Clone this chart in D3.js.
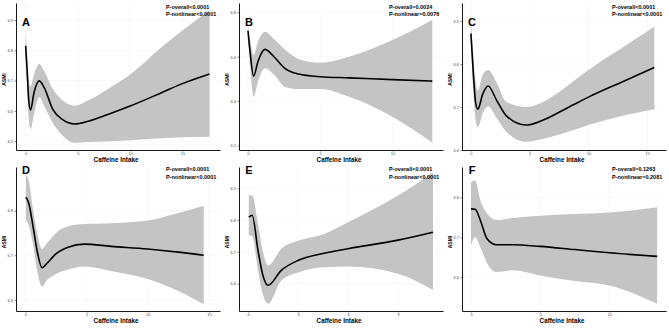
<!DOCTYPE html>
<html>
<head>
<meta charset="utf-8">
<script src="https://cdn.jsdelivr.net/npm/d3@7"></script>
<style>
  body { margin: 0; background: #fff; }
  svg { display: block; font-family: "Liberation Sans", Arial, sans-serif; }
</style>
</head>
<body>
<svg id="chart" width="669" height="328"></svg>
<script>
// panel labels and test results
const panelLetters = ["A", "B", "C", "D", "E", "F"];
const pOverall = ["P-overall<0.0001", "P-overall=0.0024", "P-overall<0.0001",
                  "P-overall<0.0001", "P-overall<0.0001", "P-overall=0.1263"];
const pNonlinear = ["P-nonlinear<0.0001", "P-nonlinear=0.0076", "P-nonlinear<0.0001",
                    "P-nonlinear<0.0001", "P-nonlinear<0.0001", "P-nonlinear=0.2081"];

// axis ticks and limits
const xTicks = [[0, 5, 10, 15], [0, 5, 10], [0, 5, 10, 15], [0, 5, 10, 15], [0, 3, 6, 9], [0, 5, 10]];
const yTicks = [[6.5, 6.6, 6.7, 6.8, 6.9], [6.2, 6.4, 6.6, 6.8], [6.6, 6.7, 6.8, 6.9],
                [6.6, 6.7, 6.8], [6.6, 6.7, 6.8, 6.9], [6.6, 6.7, 6.8]];
const xLimits = [[-0.92, 18.6], [-0.62, 13.5], [-0.76, 16.6], [-0.76, 15.9], [-0.54, 11.7], [-0.65, 14.1]];
const yLimits = [[6.471, 6.956], [6.180, 6.842], [6.600, 6.942], [6.575, 6.898], [6.514, 6.967], [6.515, 6.876]];

// spline fits: [caffeine, ASMI, lower CI, upper CI]
const curveA = [
  [0, 6.815, 6.77, 6.86], [0.15, 6.73, 6.67, 6.79], [0.3, 6.635, 6.575, 6.70],
  [0.47, 6.603, 6.54, 6.68], [0.8, 6.66, 6.59, 6.72], [1.3, 6.699, 6.646, 6.755],
  [1.8, 6.675, 6.615, 6.73], [2.6, 6.605, 6.56, 6.672], [3.5, 6.572, 6.52, 6.636],
  [4.7, 6.557, 6.495, 6.617], [6, 6.566, 6.497, 6.635], [8, 6.59, 6.50, 6.675],
  [10, 6.616, 6.503, 6.72], [13, 6.66, 6.51, 6.81], [15, 6.69, 6.513, 6.865],
  [17.6, 6.722, 6.515, 6.933]
];
const curveB = [
  [0, 6.717, 6.69, 6.74], [0.15, 6.62, 6.56, 6.68], [0.39, 6.513, 6.42, 6.608],
  [0.7, 6.58, 6.49, 6.67], [1.17, 6.633, 6.548, 6.713], [1.8, 6.6, 6.52, 6.68],
  [2.6, 6.545, 6.463, 6.63], [3.5, 6.522, 6.455, 6.59], [5, 6.51, 6.455, 6.573],
  [7, 6.505, 6.42, 6.6], [10, 6.497, 6.33, 6.675], [12.76, 6.49, 6.213, 6.765]
];
const curveC = [
  [0, 6.871, 6.85, 6.90], [0.2, 6.78, 6.74, 6.82], [0.4, 6.71, 6.67, 6.76],
  [0.59, 6.695, 6.653, 6.738], [1, 6.73, 6.685, 6.775], [1.46, 6.749, 6.702, 6.786],
  [2.2, 6.715, 6.674, 6.756], [3, 6.68, 6.643, 6.712], [4.7, 6.658, 6.619, 6.70],
  [6, 6.668, 6.625, 6.71], [8, 6.695, 6.64, 6.745], [10, 6.723, 6.658, 6.786],
  [13, 6.76, 6.68, 6.84], [15.6, 6.792, 6.695, 6.887]
];
const curveD = [
  [0.05, 6.83, 6.78, 6.88], [0.3, 6.815, 6.765, 6.865], [0.6, 6.77, 6.729, 6.808],
  [1, 6.705, 6.66, 6.745], [1.36, 6.672, 6.63, 6.714], [1.8, 6.683, 6.645, 6.728],
  [2.5, 6.703, 6.658, 6.75], [3.5, 6.718, 6.668, 6.765], [4.8, 6.725, 6.675, 6.77],
  [7, 6.72, 6.665, 6.772], [10, 6.714, 6.647, 6.778], [12.5, 6.707, 6.62, 6.795],
  [14.57, 6.70, 6.59, 6.811]
];
const curveE = [
  [0.05, 6.809, 6.752, 6.877], [0.25, 6.815, 6.75, 6.878], [0.6, 6.705, 6.643, 6.788],
  [0.9, 6.625, 6.565, 6.70], [1.2, 6.595, 6.537, 6.657], [2, 6.642, 6.61, 6.71],
  [3, 6.673, 6.635, 6.735], [4.5, 6.695, 6.652, 6.755], [6, 6.71, 6.654, 6.793],
  [9, 6.737, 6.631, 6.877], [11.1, 6.762, 6.58, 6.95]
];
const curveF = [
  [0, 6.771, 6.679, 6.837], [0.3, 6.77, 6.70, 6.842], [0.68, 6.742, 6.675, 6.792],
  [1.16, 6.696, 6.635, 6.76], [1.84, 6.681, 6.613, 6.743], [3, 6.681, 6.617, 6.748],
  [5, 6.677, 6.604, 6.754], [7.5, 6.669, 6.59, 6.758], [10, 6.661, 6.579, 6.762],
  [13.46, 6.652, 6.533, 6.775]
];
const curves = [curveA, curveB, curveC, curveD, curveE, curveF];

const svg = d3.select("#chart");
const panelW = 223, panelH = 164;

curves.forEach((data, i) => {
  const col = i % 3, row = Math.floor(i / 3);
  const g = svg.append("g").attr("transform", `translate(${col * panelW},${row * panelH})`);

  const left = 16, right = 220, top = 3;
  const bottom = row === 0 ? 150 : 147;

  const x = d3.scaleLinear().domain(xLimits[i]).range([left, right]);
  const y = d3.scaleLinear().domain(yLimits[i]).range([bottom, top]);

  // faint grid
  g.append("g").selectAll("line").data(xTicks[i]).join("line")
    .attr("x1", d => x(d)).attr("x2", d => x(d))
    .attr("y1", top).attr("y2", bottom)
    .attr("stroke", "#f0f0f0").attr("stroke-width", 0.5);
  g.append("g").selectAll("line").data(yTicks[i]).join("line")
    .attr("x1", left).attr("x2", right)
    .attr("y1", d => y(d)).attr("y2", d => y(d))
    .attr("stroke", "#f0f0f0").attr("stroke-width", 0.5);

  // confidence band
  const area = d3.area()
    .x(d => x(d[0]))
    .y0(d => y(d[2]))
    .y1(d => y(d[3]))
    .curve(d3.curveMonotoneX);
  g.append("path").datum(data)
    .attr("fill", "#c4c4c4")
    .attr("d", area);

  // fitted line
  const line = d3.line()
    .x(d => x(d[0]))
    .y(d => y(d[1]))
    .curve(d3.curveMonotoneX);
  g.append("path").datum(data)
    .attr("fill", "none")
    .attr("stroke", "#000")
    .attr("stroke-width", 1.6)
    .attr("d", line);

  // axes
  const xAxis = g.append("g").attr("transform", `translate(0,${bottom})`)
    .call(d3.axisBottom(x).tickValues(xTicks[i]).tickSize(1.5).tickSizeOuter(0).tickPadding(1)
      .tickFormat(d3.format("d")));
  const yAxis = g.append("g").attr("transform", `translate(${left},0)`)
    .call(d3.axisLeft(y).tickValues(yTicks[i]).tickSize(1.5).tickSizeOuter(0).tickPadding(1.5)
      .tickFormat(d3.format(".1f")));
  [xAxis, yAxis].forEach(a => {
    a.attr("font-size", null);
    a.select(".domain").attr("stroke", "#000").attr("stroke-width", 0.9);
    a.selectAll(".tick line").attr("stroke", "#333").attr("stroke-width", 0.6);
    a.selectAll(".tick text").attr("fill", "#4d4d4d").style("font-size", "4px")
      .style("font-family", "'Liberation Sans', Arial, sans-serif");
  });
  xAxis.selectAll(".tick text").attr("dy", "0.6em");

  // panel letter
  g.append("text")
    .attr("x", left + 10)
    .attr("y", row === 0 ? 26 : 10)
    .attr("text-anchor", "middle")
    .style("font-size", "11px").style("font-weight", "bold")
    .text(panelLetters[i]);

  // p-values
  g.append("text")
    .attr("x", 166).attr("y", row === 0 ? 8.5 : 7)
    .style("font-size", "5.5px").style("font-weight", "bold")
    .text(pOverall[i]);
  g.append("text")
    .attr("x", 166).attr("y", row === 0 ? 16 : 14.5)
    .style("font-size", "5.5px").style("font-weight", "bold")
    .text(pNonlinear[i]);

  // axis titles
  g.append("text")
    .attr("x", (left + right) / 2 - 2)
    .attr("y", row === 0 ? 162 : 159)
    .attr("text-anchor", "middle")
    .style("font-size", "6.3px").style("font-weight", "bold")
    .text("Caffeine Intake");
  g.append("text")
    .attr("transform", `translate(5.5,${(top + bottom) / 2 + 3}) rotate(-90)`)
    .attr("text-anchor", "middle")
    .style("font-size", "5px").style("font-weight", "bold")
    .text("ASMI");
});
</script>
</body>
</html>
